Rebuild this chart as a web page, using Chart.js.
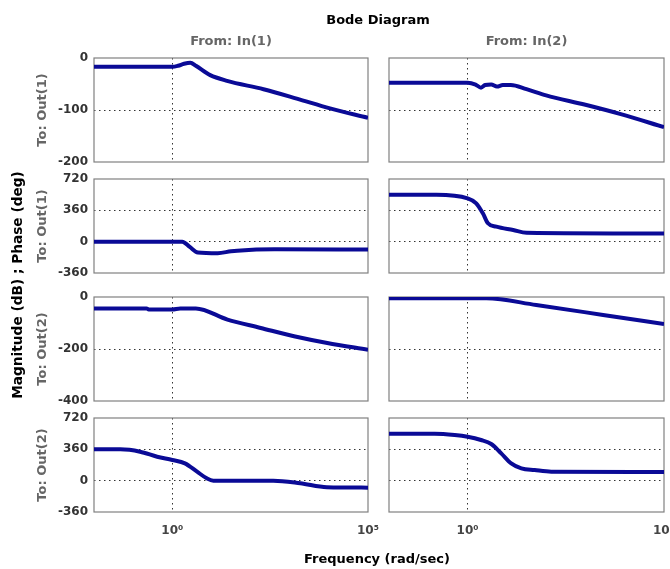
<!DOCTYPE html>
<html>
<head>
<meta charset="utf-8">
<title>Bode Diagram</title>
<script src="https://cdn.jsdelivr.net/npm/chart.js@4/dist/chart.umd.min.js"></script>
<style>
    body { margin: 0; background: #fff; }
    #page { position: relative; width: 670px; height: 569px; overflow: hidden; background: #fff; }
    #page canvas { position: absolute; left: 0; top: 0; }
    .txt { position: absolute; white-space: nowrap; line-height: 1; transform: translate(-50%, -50%);
           font-family: "DejaVu Sans", sans-serif; font-weight: bold; }
    .rot { transform: translate(-50%, -50%) rotate(-90deg); }
    .dark { color: #000; font-size: 13px; }
    .big { font-size: 13.7px; }
    .grey { color: #666; font-size: 13px; }
</style>
</head>
<body>
<div id="page"></div>
<script>
// axis labels
const inputs = ['From: In(1)', 'From: In(2)'];
const outputs = ['To: Out(1)', 'To: Out(1)', 'To: Out(2)', 'To: Out(2)'];

// ticks
const xTickValues = [1, 100000];
const xTickLabels = ['10⁰', '10⁵'];
const freqMin = 0.01;
const freqMax = 100000;
const magTicksOut1 = [-200, -100, 0];
const magTicksOut2 = [-400, -200, 0];
const phaseTicks = [-360, 0, 360, 720];

// In(1) -> Out(1)
const magFreq11 = [0.01, 1, 1.4, 2, 2.9, 4, 9.3, 25, 214, 1510, 10700, 100000];
const magDb11 = [-17, -17, -15, -11, -9, -15, -33, -44, -60, -78, -97, -115];
const phFreq11 = [0.01, 1.8, 2.8, 4.5, 14.5, 31.6, 45.7, 398, 100000];
const phDeg11 = [0, 0, -60, -125, -133, -110, -103, -88, -90];

// In(2) -> Out(1)
const magFreq21 = [0.01, 1, 1.6, 2.2, 2.8, 4, 5.6, 7.9, 12.6, 31.6, 100, 1000, 7940, 100000];
const magDb21 = [-47.5, -47.5, -51, -57, -52, -51, -55, -52, -52, -60, -72, -90, -108, -133];
const phFreq21 = [0.01, 0.16, 1, 1.66, 2.45, 3.3, 5.4, 14.5, 31.6, 100000];
const phDeg21 = [540, 540, 498, 441, 326, 211, 172, 134, 103, 95];

// In(1) -> Out(2)
const magFreq12 = [0.01, 0.22, 0.25, 1, 1.6, 4, 25.7, 182, 1290, 9120, 100000];
const magDb12 = [-44, -44, -48, -48, -44, -44, -87, -119, -151, -177, -203];
const phFreq12 = [0.01, 0.047, 0.15, 0.41, 1, 2.1, 4.3, 7.6, 11.2, 380, 1860, 8900, 100000];
const phDeg12 = [360, 360, 333, 275, 237, 199, 103, 27, 0, 0, -30, -76, -80];

// In(2) -> Out(2)
const magFreq22 = [0.01, 3, 56, 2820, 100000];
const magDb22 = [-5, -5, -31, -69, -104];
const phFreq22 = [0.01, 0.145, 0.47, 1, 2.2, 4, 7.2, 12.9, 23.4, 51, 135, 100000];
const phDeg22 = [540, 540, 525, 505, 467, 421, 314, 199, 142, 122, 103, 100];

const W = 670, H = 569;
const colLeft = [94, 389];
const colRight = [368, 664];
const rowTop = [58, 179, 297, 418];
const rowBottom = [162, 273, 401, 512];
const yAxisW = 50;
const xAxisH = 30;
const lineColor = '#0a0a96';
const tickFont = { family: 'DejaVu Sans', weight: 'bold', size: 12 };

const page = document.getElementById('page');

// box around each plot area
const framePlugin = {
    id: 'frame',
    beforeDatasetsDraw(chart) {
        const a = chart.chartArea;
        const ctx = chart.ctx;
        ctx.save();
        ctx.strokeStyle = '#808080';
        ctx.lineWidth = 1.2;
        ctx.strokeRect(a.left, a.top, a.right - a.left, a.bottom - a.top);
        ctx.restore();
    }
};

function toPoints(xs, ys) {
    return xs.map((x, i) => ({ x: x, y: ys[i] }));
}

function makePanel(col, row, xs, ys, yTicks) {
    const canvas = document.createElement('canvas');
    canvas.width = W;
    canvas.height = H;
    page.appendChild(canvas);

    const yMin = yTicks[0];
    const yMax = yTicks[yTicks.length - 1];
    const showY = col === 0;
    const showX = row === 3;

    new Chart(canvas, {
        type: 'line',
        data: {
            datasets: [{
                data: toPoints(xs, ys),
                borderColor: lineColor,
                borderWidth: 4,
                pointRadius: 0,
                cubicInterpolationMode: 'monotone'
            }]
        },
        options: {
            responsive: false,
            animation: false,
            events: [],
            layout: {
                padding: {
                    left: colLeft[col] - yAxisW,
                    right: W - colRight[col],
                    top: rowTop[row],
                    bottom: H - rowBottom[row] - xAxisH
                }
            },
            plugins: { legend: { display: false }, tooltip: { enabled: false } },
            scales: {
                x: {
                    type: 'logarithmic',
                    min: freqMin,
                    max: freqMax,
                    afterBuildTicks: s => { s.ticks = xTickValues.map(v => ({ value: v })); },
                    afterFit: s => {
                        s.height = xAxisH;
                        s.paddingLeft = 0;
                        s.paddingRight = 0;
                    },
                    border: { display: false, dash: [1.5, 3.5] },
                    grid: {
                        drawTicks: false,
                        lineWidth: 1,
                        color: c => (c.tick && c.tick.value === 1) ? '#333' : 'rgba(0,0,0,0)'
                    },
                    ticks: {
                        display: showX,
                        padding: 12,
                        maxRotation: 0,
                        autoSkip: false,
                        color: '#444',
                        font: tickFont,
                        callback: v => xTickLabels[xTickValues.indexOf(v)]
                    }
                },
                y: {
                    min: yMin,
                    max: yMax,
                    afterBuildTicks: s => { s.ticks = yTicks.map(v => ({ value: v })); },
                    afterFit: s => {
                        s.width = yAxisW;
                        s.paddingTop = 0;
                        s.paddingBottom = 0;
                    },
                    border: { display: false, dash: [1.5, 3.5] },
                    grid: {
                        drawTicks: false,
                        lineWidth: 1,
                        color: c => (c.tick && c.tick.value !== yMin && c.tick.value !== yMax) ? '#333' : 'rgba(0,0,0,0)'
                    },
                    ticks: {
                        display: showY,
                        padding: 6,
                        color: '#333',
                        font: tickFont,
                        callback: v => String(v)
                    }
                }
            }
        },
        plugins: [framePlugin]
    });
}

makePanel(0, 0, magFreq11, magDb11, magTicksOut1);
makePanel(0, 1, phFreq11, phDeg11, phaseTicks);
makePanel(0, 2, magFreq12, magDb12, magTicksOut2);
makePanel(0, 3, phFreq12, phDeg12, phaseTicks);
makePanel(1, 0, magFreq21, magDb21, magTicksOut1);
makePanel(1, 1, phFreq21, phDeg21, phaseTicks);
makePanel(1, 2, magFreq22, magDb22, magTicksOut2);
makePanel(1, 3, phFreq22, phDeg22, phaseTicks);

// text labels around the grid
function addText(text, x, y, cls) {
    const d = document.createElement('div');
    d.className = 'txt ' + cls;
    d.textContent = text;
    d.style.left = x + 'px';
    d.style.top = y + 'px';
    page.appendChild(d);
}

addText('Bode Diagram', 378, 19, 'dark');
inputs.forEach((t, i) => addText(t, (colLeft[i] + colRight[i]) / 2, 40, 'grey'));
outputs.forEach((t, i) => addText(t, 41, (rowTop[i] + rowBottom[i]) / 2, 'grey rot'));
addText('Magnitude (dB) ; Phase (deg)', 18, 285, 'dark big rot');
addText('Frequency (rad/sec)', 377, 558, 'dark');
</script>
</body>
</html>
